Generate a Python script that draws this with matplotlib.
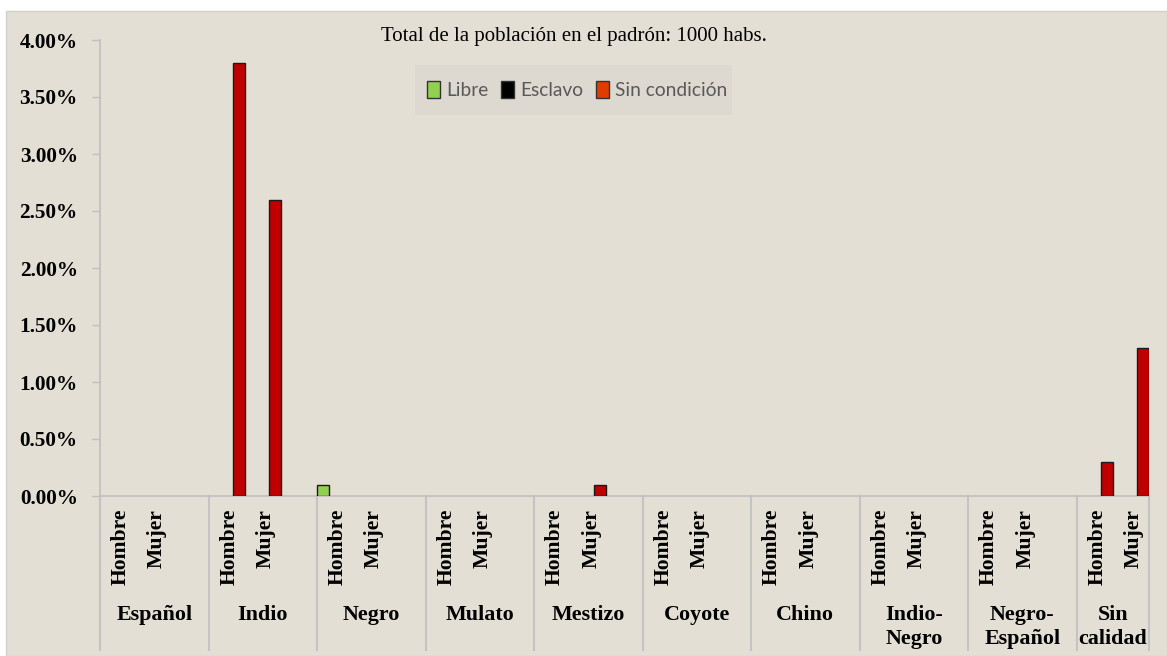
import matplotlib
matplotlib.use("Agg")
import matplotlib.pyplot as plt
import matplotlib.transforms as mtransforms
from matplotlib.patches import Patch, Rectangle
import numpy as np

groups = ["Español", "Indio", "Negro", "Mulato", "Mestizo", "Coyote", "Chino",
          "Indio-\nNegro", "Negro-\nEspañol", "Sin\ncalidad"]
sexes = ["Hombre", "Mujer"]
series = ["Libre", "Esclavo", "Sin condición"]
# values in % : [group][sex]
libre = [[0, 0], [0, 0], [0.1, 0], [0, 0], [0, 0], [0, 0], [0, 0], [0, 0], [0, 0], [0, 0]]
esclavo = [[0, 0], [0, 0], [0, 0], [0, 0], [0, 0], [0, 0], [0, 0], [0, 0], [0, 0], [0, 0]]
sin_condicion = [[0, 0], [3.8, 2.6], [0, 0], [0, 0], [0, 0.1], [0, 0], [0, 0], [0, 0], [0, 0], [0.3, 1.3]]
yticks = [0, 0.5, 1.0, 1.5, 2.0, 2.5, 3.0, 3.5, 4.0]
title = "Total de la población en el padrón: 1000 habs."

bar_colors = ["#92D050", "#000000", "#C00000"]
legend_colors = ["#92D050", "#000000", "#E03C00"]
bg = "#E4DFD4"

W, H = 1167, 656
fig = plt.figure(figsize=(W / 100, H / 100), dpi=100)
fig.patch.set_facecolor("white")
fig.patches.append(Rectangle((6 / W, 0), 1 - 6 / W, (H - 11) / H, transform=fig.transFigure,
                             facecolor=bg, edgecolor="#D0D0D0", lw=1, zorder=-10))
# legend background box
fig.patches.append(Rectangle((415 / W, (H - 115) / H), 317 / W, 50 / H, transform=fig.transFigure,
                             facecolor="#DDD9D0", edgecolor="none", zorder=-5))

x0, x1 = 100, 1149
y0, y1 = 496, 40
ax = fig.add_axes([x0 / W, (H - y0) / H, (x1 - x0) / W, (y0 - y1) / H])
ax.set_facecolor("none")

# slot positions: 3 slots per group (Hombre, Mujer, empty), last group only 2
n_slots = 3 * (len(groups) - 1) + 2
all_series = [libre, esclavo, sin_condicion]
bw = 1 / 3
for si, data in enumerate(all_series):
    xs, hs = [], []
    for g in range(len(groups)):
        for s in range(2):
            xs.append(3 * g + s + si * bw)
            hs.append(data[g][s])
    xs = np.array(xs)
    hs = np.array(hs)
    mask = hs > 0
    ax.bar(xs[mask], hs[mask], width=bw, align="edge", color=bar_colors[si],
           edgecolor="#1a1a1a", linewidth=1.0, zorder=3)

ax.set_xlim(0, n_slots)
ax.set_ylim(0, 4.0)
ax.set_yticks(yticks)
ax.set_yticklabels([f"{v:.2f}%" for v in yticks], fontsize=15.3, fontweight="bold",
                   family="Liberation Serif")
ax.tick_params(axis="y", length=6, color="#BFBFBF", width=1, pad=10)
ax.set_xticks([])
for sp in ["top", "right"]:
    ax.spines[sp].set_visible(False)
ax.spines["left"].set_color("#BFBFBF")
ax.spines["bottom"].set_color("#BFBFBF")
ax.spines["left"].set_linewidth(1.2)
ax.spines["bottom"].set_linewidth(1.2)

trans = mtransforms.blended_transform_factory(ax.transData, fig.transFigure)
# separators
bottom_y = (H - 650) / H
top_y = (H - y0) / H
for g in range(len(groups)):
    xs = 3 * g
    ax.plot([xs, xs], [bottom_y, top_y], transform=trans, color="#C4C4C4", lw=1.5,
            clip_on=False, zorder=1)
ax.plot([n_slots, n_slots], [bottom_y, top_y], transform=trans, color="#C4C4C4", lw=1.5,
        clip_on=False, zorder=1)

for g, name in enumerate(groups):
    for s, sx in enumerate(sexes):
        ax.text(3 * g + s + 0.58, (H - 509) / H, sx, transform=trans, rotation=90,
                ha="center", va="top", fontsize=15.6, fontweight="bold",
                family="Liberation Serif")
    cx = 3 * g + (1.5 if g < len(groups) - 1 else 1.0)
    ax.text(cx, (H - 605) / H, name, transform=trans, ha="center", va="top",
            multialignment="center", fontsize=15.8, fontweight="bold",
            family="Liberation Serif", linespacing=1.25)

fig.text(574 / W, (H - 36) / H, title, ha="center", va="center", fontsize=15,
         family="Liberation Serif")

handles = [Patch(facecolor=c, edgecolor="#333333", lw=1) for c in legend_colors]
leg = fig.legend(handles, series, loc="center", bbox_to_anchor=(577 / W, (H - 90) / H),
                 ncol=3, frameon=False, handlelength=0.7, handleheight=0.95,
                 handletextpad=0.3, columnspacing=0.65, borderpad=0.3, borderaxespad=0,
                 prop={"family": "Lato", "size": 13.8})
for t in leg.get_texts():
    t.set_color("#595959")

fig.savefig("out.png", dpi=100, facecolor=fig.get_facecolor())
